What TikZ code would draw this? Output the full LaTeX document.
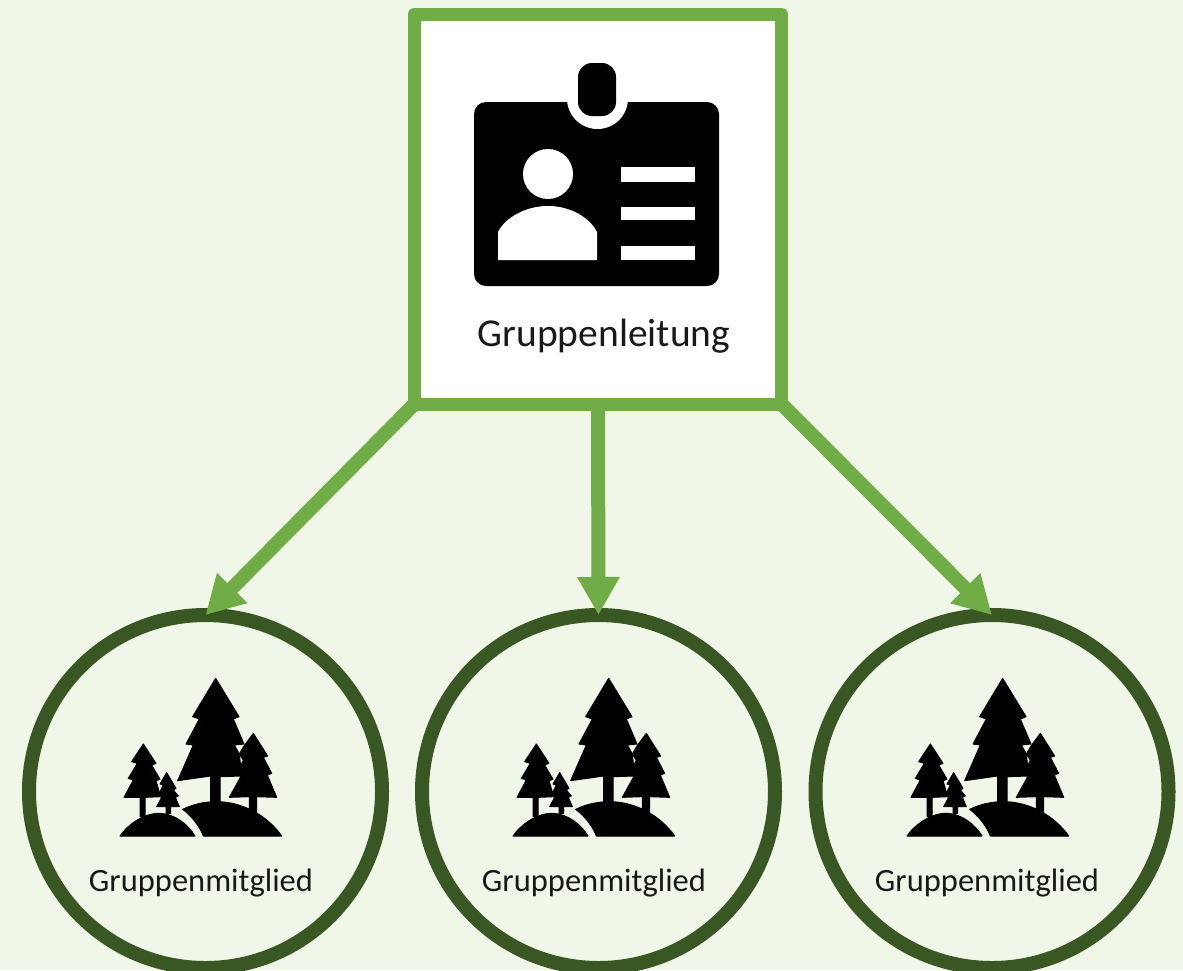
\documentclass[tikz,border=0pt]{standalone}
\usepackage{fontspec}
\setmainfont{Carlito}
\usetikzlibrary{arrows.meta}
\definecolor{bgc}{HTML}{F0F7E8}
\definecolor{lgreen}{HTML}{70AD47}
\definecolor{dgreen}{HTML}{385723}
\tikzset{
  leadbox/.style={draw=lgreen,line width=13pt,fill=white,rectangle,minimum width=367pt,minimum height=390pt,outer sep=0pt,line join=round,inner sep=0pt},
  member/.style={draw=dgreen,line width=14pt,circle,minimum size=353pt,outer sep=0pt,inner sep=0pt},
  conn/.style={draw=lgreen,line width=14pt,-{Triangle[length=38pt,width=40pt]}},
  leadlabel/.style={font=\fontsize{39.5}{44}\selectfont,text=black!90,inner sep=0pt,anchor=base},
  memlabel/.style={font=\fontsize{32.5}{36}\selectfont,text=black!90,inner sep=0pt,anchor=base},
  icon/.style={fill=black,draw=black,line width=1pt,line join=round},
  trees/.pic={
    \begin{scope}[shift={(100,670)},scale=1/3]
      % large tree
      \path[icon] (347,25)--(417,140)--(400,147)--(432,222)--(403,225)--(418,252)--(425,318)--(360,320)--(360,400)--(332,400)--(332,318)--(233,332)--(280,225)--(258,222)--(298,147)--(278,140)--cycle;
      % right tree
      \path[icon] (460,190)--(503,258)--(490,262)--(515,310)--(502,315)--(530,382)--(470,380)--(470,430)--(448,425)--(448,380)--(388,382)--(425,315)--(412,310)--(430,270)--(418,252)--(432,228)--cycle;
      % left tree
      \path[icon] (130,222)--(168,280)--(155,285)--(180,328)--(168,332)--(182,380)--(135,382)--(135,440)--(120,440)--(120,382)--(72,382)--(100,330)--(85,325)--(112,280)--(95,275)--cycle;
      % small tree
      \path[icon] (200,308)--(228,355)--(220,360)--(235,378)--(226,382)--(238,410)--(212,410)--(212,430)--(198,430)--(198,410)--(170,410)--(185,382)--(175,376)--(190,345)--(180,342)--cycle;
      % hills
      \path[icon] (60,498) .. controls (90,455) and (140,430) .. (175,430) .. controls (225,430) and (265,465) .. (285,498) -- cycle;
      \path[icon] (248,418) .. controls (285,400) and (320,395) .. (350,395) .. controls (430,395) and (505,440) .. (545,498) -- (310,498) .. controls (300,470) and (275,438) .. (248,418) -- cycle;
    \end{scope}
  }
}
\begin{document}
\begin{tikzpicture}[x=1pt,y=-1pt]
  \useasboundingbox (0,0) rectangle (1183,970);
  \fill[bgc] (0,0) rectangle (1183,970);

  \node[leadbox] (lead) at (598,209) {};
  \node[member] (m1) at (205.5,791.5) {};
  \node[member] (m2) at (598.5,791.5) {};
  \node[member] (m3) at (992,791.5) {};

  \draw[conn] (lead.south west) -- (m1.north);
  \draw[conn] (lead.south) -- (m2.north);
  \draw[conn] (lead.south east) -- (m3.north);

  % badge icon
  \fill[black,rounded corners=12pt] (474,102) rectangle (719,286);
  \fill[white] (597.5,98.5) circle[radius=30.5];
  \fill[black,rounded corners=14pt] (578,63) rectangle (616,116);
  \fill[white] (548,174) circle[radius=25];
  \fill[white] (498,260) -- (498,232) .. controls (505,218) and (525,206) .. (548,206) .. controls (571,206) and (590,218) .. (597,232) -- (597,260) -- cycle;
  \fill[white] (621,167) rectangle (695,182);
  \fill[white] (621,207) rectangle (695,220);
  \fill[white] (621,246) rectangle (695,260);

  \node[leadlabel] (leadtext) at (604,346) {Gruppenleitung};

  \pic (t1) at (0,0) {trees};
  \pic (t2) at (393,0) {trees};
  \pic (t3) at (787,0) {trees};

  \node[memlabel] (mt1) at (201,891) {Gruppenmitglied};
  \node[memlabel] (mt2) at (594,891) {Gruppenmitglied};
  \node[memlabel] (mt3) at (987,891) {Gruppenmitglied};
\end{tikzpicture}
\end{document}
